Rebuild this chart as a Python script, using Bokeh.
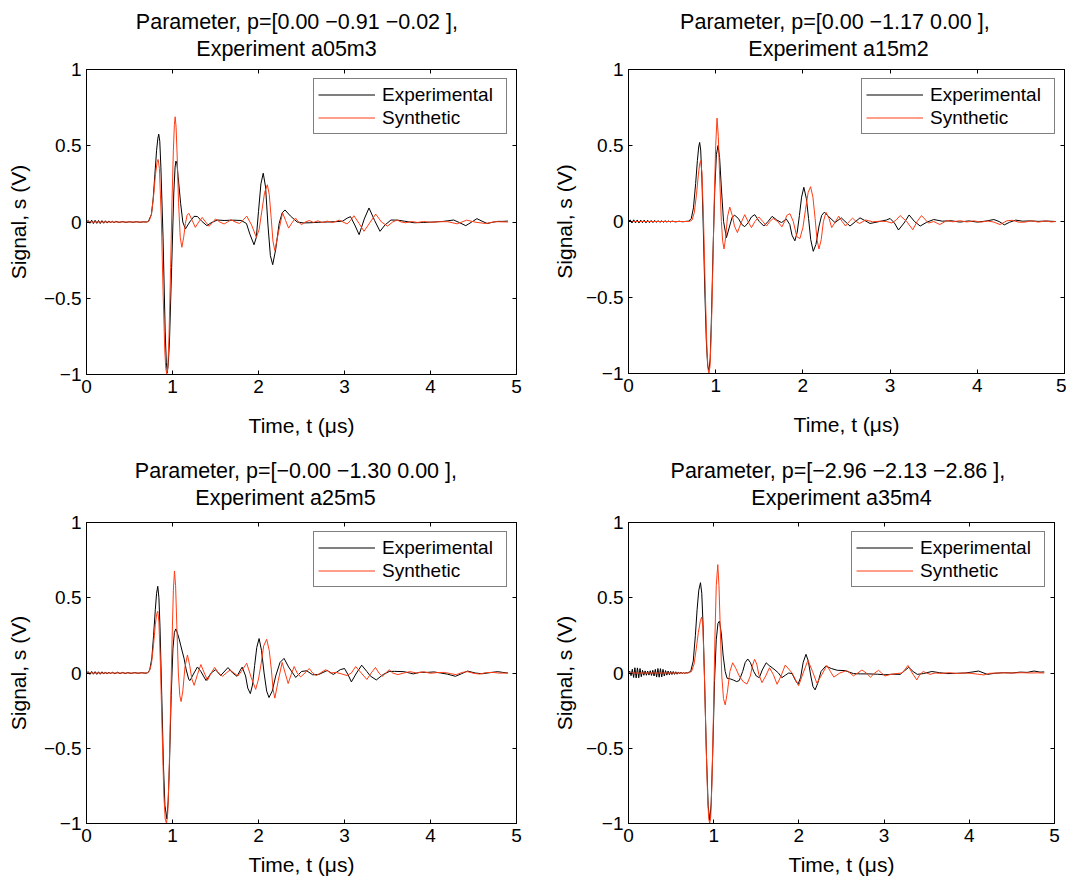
from bokeh.plotting import figure
from bokeh.models import Range1d, FixedTicker, LinearAxis, Legend, LegendItem, Title
from bokeh.layouts import column, row
from bokeh.embed import file_html
from bokeh.resources import INLINE

# ---------------- data ----------------
x_ticks = [0, 1, 2, 3, 4, 5]
y_ticks = [-1, -0.5, 0, 0.5, 1]
y_tick_labels = ["−1", "−0.5", "0", "0.5", "1"]
legend_labels = ["Experimental", "Synthetic"]
x_label = "Time, t (μs)"
y_label = "Signal, s (V)"

experiments = ["a05m3", "a15m2", "a25m5", "a35m4"]
parameters = ["[0.00 −0.91 −0.02 ],", "[0.00 −1.17 0.00 ],",
              "[−0.00 −1.30 0.00 ],", "[−2.96 −2.13 −2.86 ],"]

# (time in µs, signal in V)
exp_a05m3 = [
    (0.00, 0.000), (0.02, 0.010), (0.04, -0.008), (0.06, 0.012), (0.08, -0.010), (0.10, 0.011),
    (0.12, -0.009), (0.14, 0.010), (0.16, -0.010), (0.18, 0.009), (0.20, -0.008), (0.22, 0.008),
    (0.24, -0.007), (0.26, 0.007), (0.28, -0.006), (0.30, 0.006), (0.32, -0.005), (0.34, 0.004),
    (0.38, -0.003), (0.42, 0.003), (0.46, -0.003), (0.50, 0.002), (0.54, -0.002), (0.58, 0.002),
    (0.62, -0.002), (0.66, 0.001), (0.70, 0.000),
    (0.72, 0.004), (0.755, 0.05), (0.775, 0.15), (0.795, 0.31), (0.815, 0.47), (0.83, 0.55),
    (0.84, 0.576), (0.852, 0.53), (0.865, 0.36), (0.89, -0.10), (0.915, -0.72), (0.928, -0.92),
    (0.94, -0.99), (0.952, -0.92), (0.965, -0.78), (0.99, -0.30), (1.015, 0.19), (1.03, 0.36),
    (1.04, 0.40), (1.052, 0.38), (1.065, 0.30), (1.095, 0.12), (1.12, 0.00), (1.15, -0.046),
    (1.20, 0.00), (1.25, 0.037), (1.29, 0.036), (1.34, 0.005), (1.40, -0.024), (1.45, -0.005),
    (1.52, 0.013), (1.60, 0.010), (1.70, 0.012), (1.80, 0.010), (1.86, -0.01), (1.90, -0.08),
    (1.948, -0.149), (1.975, -0.10), (2.00, 0.07), (2.028, 0.25), (2.055, 0.32), (2.082, 0.23),
    (2.11, -0.02), (2.138, -0.22), (2.165, -0.28), (2.20, -0.18), (2.24, -0.01), (2.275, 0.06),
    (2.308, 0.079), (2.37, 0.04), (2.45, 0.000), (2.52, -0.006), (2.60, -0.005), (2.70, -0.002),
    (2.80, 0.000), (2.90, 0.002), (2.98, 0.006), (3.03, 0.025), (3.07, 0.035), (3.12, -0.02),
    (3.17, -0.083), (3.23, 0.02), (3.285, 0.092), (3.35, 0.01), (3.413, -0.061), (3.47, -0.02),
    (3.54, 0.013), (3.62, 0.012), (3.70, 0.005), (3.81, -0.005), (3.92, -0.003), (4.04, 0.000),
    (4.15, 0.004), (4.27, 0.013), (4.34, -0.005), (4.41, -0.024), (4.48, 0.000), (4.54, 0.022),
    (4.60, 0.005), (4.66, -0.010), (4.72, -0.002), (4.78, 0.004), (4.84, 0.004), (4.90, 0.006)]

syn_a05m3 = [
    (0.00, 0.0), (0.70, 0.0), (0.73, 0.008), (0.755, 0.05), (0.78, 0.17), (0.80, 0.30), (0.82, 0.39),
    (0.833, 0.41), (0.848, 0.35), (0.87, 0.02), (0.89, -0.45), (0.91, -0.84), (0.922, -0.96),
    (0.934, -1.00), (0.946, -0.95), (0.96, -0.74), (0.978, -0.30), (0.995, 0.15), (1.01, 0.47),
    (1.022, 0.64), (1.031, 0.69), (1.042, 0.62), (1.055, 0.42), (1.07, 0.13), (1.09, -0.10),
    (1.109, -0.166), (1.13, -0.10), (1.15, -0.01), (1.17, 0.045), (1.19, 0.057), (1.23, 0.01),
    (1.265, -0.035), (1.305, 0.00), (1.345, 0.030), (1.385, 0.00), (1.425, -0.028), (1.465, -0.004),
    (1.50, 0.020), (1.55, 0.00), (1.60, -0.013), (1.64, 0.00), (1.68, 0.015), (1.73, 0.00),
    (1.78, -0.010), (1.82, 0.012), (1.863, 0.039), (1.92, -0.02), (1.975, -0.100), (2.007, -0.05),
    (2.039, 0.072), (2.071, 0.194), (2.103, 0.244), (2.125, 0.18), (2.147, 0.03), (2.168, -0.125),
    (2.19, -0.188), (2.235, -0.06), (2.28, 0.060), (2.315, 0.01), (2.35, -0.040), (2.39, -0.005),
    (2.43, 0.026), (2.465, 0.00), (2.50, -0.017), (2.545, 0.00), (2.59, 0.010), (2.64, -0.003),
    (2.69, 0.008), (2.74, -0.004), (2.80, 0.006), (2.86, -0.004), (2.94, 0.012), (3.03, -0.013),
    (3.07, 0.01), (3.11, 0.041), (3.17, -0.01), (3.227, -0.061), (3.30, 0.00), (3.363, 0.052),
    (3.43, 0.00), (3.50, -0.027), (3.56, 0.00), (3.61, 0.013), (3.66, 0.00), (3.71, -0.005),
    (3.78, 0.003), (3.85, -0.003), (3.92, 0.003), (4.00, -0.002), (4.10, 0.002), (4.20, 0.002),
    (4.31, -0.012), (4.42, 0.012), (4.53, -0.002), (4.64, -0.010), (4.75, 0.002), (4.90, 0.000)]

exp_a15m2 = [
    (0.00, 0.0), (0.02, 0.010), (0.04, -0.010), (0.06, 0.011), (0.08, -0.009), (0.10, 0.010),
    (0.12, -0.010), (0.14, 0.009), (0.16, -0.008), (0.18, 0.009), (0.20, -0.009), (0.22, 0.008),
    (0.24, -0.008), (0.26, 0.007), (0.28, -0.007), (0.30, 0.007), (0.32, -0.006), (0.34, 0.006),
    (0.36, -0.006), (0.38, 0.005), (0.40, -0.005), (0.42, 0.005), (0.44, -0.004), (0.46, 0.004),
    (0.48, -0.004), (0.50, 0.003), (0.54, -0.003), (0.58, 0.002), (0.62, -0.002), (0.66, 0.001),
    (0.69, 0.002), (0.72, 0.02), (0.745, 0.09), (0.77, 0.25), (0.79, 0.40), (0.805, 0.49),
    (0.816, 0.52), (0.828, 0.47), (0.842, 0.28), (0.858, -0.05), (0.875, -0.45), (0.892, -0.78),
    (0.908, -0.95), (0.923, -0.98), (0.937, -0.90), (0.952, -0.62), (0.97, -0.18), (0.99, 0.22),
    (1.008, 0.44), (1.027, 0.50), (1.045, 0.42), (1.065, 0.22), (1.09, 0.00), (1.123, -0.106),
    (1.16, -0.03), (1.19, 0.03), (1.218, 0.041), (1.26, 0.02), (1.30, -0.02), (1.333, -0.034),
    (1.37, -0.01), (1.41, 0.03), (1.448, 0.045), (1.50, 0.00), (1.552, -0.030), (1.60, 0.00),
    (1.647, 0.034), (1.70, 0.01), (1.755, -0.007), (1.81, 0.016), (1.85, -0.02), (1.875, -0.09),
    (1.908, -0.127), (1.935, -0.07), (1.96, 0.04), (1.985, 0.16), (2.011, 0.225), (2.04, 0.15),
    (2.065, 0.02), (2.09, -0.12), (2.119, -0.196), (2.15, -0.15), (2.185, -0.03), (2.215, 0.04),
    (2.245, 0.061), (2.30, 0.03), (2.368, -0.007), (2.44, 0.024), (2.54, -0.030), (2.655, 0.024),
    (2.77, -0.013), (2.88, 0.000), (2.96, 0.010), (3.00, 0.020), (3.05, -0.01), (3.096, -0.056),
    (3.16, -0.01), (3.218, 0.043), (3.28, 0.00), (3.345, -0.030), (3.42, -0.005), (3.50, 0.013),
    (3.60, 0.002), (3.70, 0.005), (3.80, -0.004), (3.90, 0.004), (4.00, -0.004), (4.10, 0.003),
    (4.19, 0.013), (4.25, 0.000), (4.31, -0.022), (4.37, -0.005), (4.44, 0.009), (4.52, 0.002),
    (4.60, 0.004), (4.70, 0.001), (4.80, 0.003), (4.90, 0.000)]

syn_a15m2 = [
    (0.00, 0.0), (0.70, 0.0), (0.73, 0.01), (0.755, 0.06), (0.78, 0.18), (0.80, 0.30), (0.816, 0.38),
    (0.828, 0.40), (0.842, 0.32), (0.86, 0.02), (0.88, -0.45), (0.90, -0.85), (0.912, -0.97),
    (0.923, -1.0), (0.935, -0.95), (0.95, -0.72), (0.968, -0.28), (0.985, 0.18), (1.00, 0.50),
    (1.015, 0.68), (1.03, 0.56), (1.045, 0.30), (1.065, 0.00), (1.08, -0.13), (1.096, -0.181),
    (1.115, -0.10), (1.135, 0.03), (1.161, 0.095), (1.19, 0.04), (1.215, -0.03), (1.249, -0.073),
    (1.29, -0.01), (1.333, 0.045), (1.37, 0.00), (1.41, -0.040), (1.45, 0.00), (1.494, 0.03),
    (1.54, 0.00), (1.583, -0.03), (1.62, 0.00), (1.66, 0.02), (1.71, 0.00), (1.76, -0.035),
    (1.79, 0.00), (1.815, 0.04), (1.851, 0.052), (1.89, 0.00), (1.93, -0.10), (1.966, -0.112),
    (2.00, -0.04), (2.03, 0.08), (2.06, 0.19), (2.088, 0.229), (2.115, 0.16), (2.14, 0.02),
    (2.162, -0.12), (2.184, -0.181), (2.21, -0.12), (2.235, 0.00), (2.265, 0.06), (2.30, 0.02),
    (2.33, -0.04), (2.37, -0.005), (2.41, 0.035), (2.45, 0.00), (2.49, -0.030), (2.53, 0.00),
    (2.57, 0.022), (2.61, 0.00), (2.65, -0.013), (2.72, 0.010), (2.80, -0.002), (2.88, 0.002),
    (2.96, 0.000), (3.02, -0.01), (3.07, 0.01), (3.115, 0.039), (3.19, 0.00), (3.26, -0.054),
    (3.31, 0.00), (3.36, 0.039), (3.44, -0.010), (3.50, 0.00), (3.57, -0.020), (3.65, 0.006),
    (3.72, -0.002), (3.80, 0.005), (3.88, -0.003), (3.96, 0.004), (4.04, -0.004), (4.12, 0.003),
    (4.19, -0.004), (4.26, -0.020), (4.34, 0.005), (4.40, 0.008), (4.48, -0.005), (4.55, -0.004),
    (4.62, 0.005), (4.70, -0.004), (4.78, 0.004), (4.85, -0.003), (4.90, 0.000)]

exp_a25m5 = [
    (0.00, 0.0), (0.02, 0.009), (0.04, -0.009), (0.06, 0.010), (0.08, -0.008), (0.10, 0.009),
    (0.12, -0.009), (0.14, 0.008), (0.16, -0.008), (0.18, 0.008), (0.20, -0.007), (0.22, 0.007),
    (0.24, -0.007), (0.26, 0.006), (0.28, -0.006), (0.30, 0.006), (0.33, -0.005), (0.36, 0.005),
    (0.39, -0.004), (0.42, 0.004), (0.45, -0.004), (0.48, 0.003), (0.52, -0.003), (0.56, 0.003),
    (0.60, -0.002), (0.64, 0.002), (0.68, -0.001), (0.71, 0.000),
    (0.735, 0.02), (0.76, 0.10), (0.78, 0.25), (0.80, 0.42), (0.815, 0.53), (0.829, 0.576),
    (0.842, 0.50), (0.855, 0.30), (0.875, -0.15), (0.895, -0.62), (0.912, -0.88), (0.934, -0.97),
    (0.95, -0.85), (0.965, -0.60), (0.985, -0.15), (1.005, 0.16), (1.022, 0.27), (1.039, 0.293),
    (1.06, 0.26), (1.08, 0.22), (1.095, 0.185), (1.115, 0.14), (1.134, 0.098), (1.16, 0.02),
    (1.19, -0.044), (1.204, -0.05), (1.25, 0.00), (1.29, 0.040), (1.33, 0.01), (1.39, -0.05),
    (1.45, 0.00), (1.50, 0.022), (1.56, -0.017), (1.645, 0.036), (1.70, 0.00), (1.75, -0.022),
    (1.79, 0.02), (1.81, 0.039), (1.85, -0.02), (1.875, -0.10), (1.905, -0.137), (1.93, -0.08),
    (1.955, 0.05), (1.98, 0.17), (2.007, 0.229), (2.035, 0.15), (2.065, 0.00), (2.095, -0.12),
    (2.122, -0.163), (2.16, -0.12), (2.20, -0.02), (2.25, 0.07), (2.297, 0.097), (2.35, 0.04),
    (2.433, -0.03), (2.50, 0.01), (2.56, 0.015), (2.63, -0.012), (2.70, -0.010), (2.80, 0.017),
    (2.87, -0.010), (2.95, 0.022), (3.00, 0.030), (3.04, -0.01), (3.08, -0.059), (3.14, 0.00),
    (3.20, 0.052), (3.26, 0.01), (3.30, -0.02), (3.37, -0.046), (3.45, -0.01), (3.52, 0.010),
    (3.58, 0.011), (3.69, 0.009), (3.80, -0.006), (3.88, 0.005), (3.96, 0.004), (4.04, 0.007),
    (4.12, 0.000), (4.20, -0.008), (4.29, -0.022), (4.36, -0.005), (4.43, 0.013), (4.52, 0.000),
    (4.60, -0.005), (4.70, 0.003), (4.78, 0.009), (4.84, 0.004), (4.90, 0.000)]

syn_a25m5 = [
    (0.00, 0.0), (0.70, 0.0), (0.73, 0.01), (0.755, 0.06), (0.78, 0.19), (0.80, 0.32), (0.815, 0.39),
    (0.829, 0.41), (0.842, 0.34), (0.86, 0.05), (0.88, -0.40), (0.90, -0.82), (0.915, -0.97),
    (0.93, -1.0), (0.945, -0.93), (0.96, -0.68), (0.978, -0.22), (0.995, 0.22), (1.01, 0.55),
    (1.023, 0.678), (1.036, 0.58), (1.05, 0.32), (1.068, 0.00), (1.085, -0.15), (1.10, -0.19),
    (1.12, -0.12), (1.145, 0.04), (1.174, 0.12), (1.20, 0.05), (1.225, -0.04), (1.252, -0.082),
    (1.29, -0.01), (1.33, 0.056), (1.37, 0.00), (1.407, -0.049), (1.45, 0.00), (1.49, 0.037),
    (1.535, 0.00), (1.58, -0.022), (1.625, 0.00), (1.67, 0.020), (1.715, 0.00), (1.76, -0.02),
    (1.80, 0.01), (1.863, 0.065), (1.915, -0.03), (1.967, -0.109), (2.00, -0.04), (2.03, 0.06),
    (2.06, 0.18), (2.095, 0.224), (2.125, 0.15), (2.15, 0.02), (2.17, -0.11), (2.19, -0.167),
    (2.23, -0.05), (2.275, 0.07), (2.31, 0.00), (2.345, -0.07), (2.38, -0.01), (2.415, 0.043),
    (2.45, 0.00), (2.49, -0.026), (2.54, 0.00), (2.59, 0.030), (2.63, 0.00), (2.67, -0.017),
    (2.72, 0.00), (2.78, 0.022), (2.84, 0.00), (2.90, 0.004), (2.96, -0.005), (3.03, -0.017),
    (3.08, 0.00), (3.13, 0.043), (3.195, 0.00), (3.26, -0.043), (3.31, 0.00), (3.36, 0.037),
    (3.40, 0.00), (3.44, -0.022), (3.48, 0.00), (3.52, 0.022), (3.56, 0.00), (3.62, -0.011),
    (3.69, 0.000), (3.76, 0.009), (3.84, 0.000), (3.92, 0.008), (4.00, -0.002), (4.08, 0.003),
    (4.16, 0.004), (4.23, -0.004), (4.30, -0.011), (4.37, 0.004), (4.43, 0.009), (4.50, -0.002),
    (4.57, -0.007), (4.65, 0.003), (4.73, 0.004), (4.80, -0.001), (4.90, 0.000)]

exp_a35m4 = [
    (0.000, 0.000), (0.015, 0.012), (0.030, -0.018), (0.045, 0.025), (0.060, -0.030), (0.075, 0.035),
    (0.090, -0.033), (0.105, 0.034), (0.120, -0.032), (0.135, 0.030), (0.150, -0.025), (0.165, 0.018),
    (0.180, -0.015), (0.195, 0.014), (0.210, -0.015), (0.225, 0.013), (0.240, -0.014), (0.255, 0.015),
    (0.270, -0.016), (0.285, 0.018), (0.300, -0.020), (0.315, 0.024), (0.330, -0.027), (0.345, 0.030),
    (0.360, -0.028), (0.375, 0.029), (0.390, -0.026), (0.405, 0.024), (0.420, -0.020), (0.435, 0.016),
    (0.450, -0.014), (0.465, 0.013), (0.480, -0.012), (0.495, 0.011), (0.510, -0.010), (0.525, 0.010),
    (0.540, -0.009), (0.555, 0.008), (0.570, -0.008), (0.585, 0.007), (0.600, -0.006), (0.615, 0.006),
    (0.630, -0.005), (0.645, 0.004), (0.660, -0.004), (0.675, 0.003), (0.690, 0.000),
    (0.70, 0.003), (0.73, 0.01), (0.76, 0.08), (0.785, 0.25), (0.805, 0.42), (0.825, 0.55),
    (0.845, 0.60), (0.86, 0.53), (0.875, 0.32), (0.895, -0.10), (0.915, -0.55), (0.935, -0.88),
    (0.954, -0.98), (0.97, -0.87), (0.99, -0.50), (1.01, -0.05), (1.03, 0.22), (1.05, 0.33),
    (1.068, 0.345), (1.09, 0.26), (1.11, 0.12), (1.135, 0.01), (1.157, -0.035), (1.20, -0.04),
    (1.235, -0.048), (1.27, -0.057), (1.30, -0.05), (1.34, 0.01), (1.37, 0.07), (1.40, 0.093),
    (1.43, 0.07), (1.47, 0.01), (1.50, -0.02), (1.535, -0.031), (1.57, 0.02), (1.616, 0.068),
    (1.65, 0.05), (1.686, 0.035), (1.72, 0.02), (1.76, 0.00), (1.80, -0.031), (1.84, -0.015),
    (1.88, 0.00), (1.92, -0.004), (1.96, -0.05), (1.99, -0.075), (2.02, -0.03), (2.05, 0.07),
    (2.083, 0.124), (2.11, 0.08), (2.14, -0.02), (2.165, -0.09), (2.19, -0.112), (2.22, -0.07),
    (2.26, 0.01), (2.315, 0.046), (2.38, 0.03), (2.45, 0.018), (2.54, 0.016), (2.64, -0.004),
    (2.72, -0.006), (2.82, -0.006), (2.92, -0.008), (3.01, -0.012), (3.10, -0.008), (3.19, -0.009),
    (3.24, 0.015), (3.29, 0.038), (3.34, 0.01), (3.39, -0.009), (3.46, -0.004), (3.56, 0.010),
    (3.65, 0.002), (3.75, -0.004), (3.85, -0.002), (3.95, 0.000), (4.03, 0.006), (4.11, 0.013),
    (4.21, -0.009), (4.30, -0.002), (4.40, 0.002), (4.50, 0.000), (4.60, 0.006), (4.68, 0.004),
    (4.76, 0.013), (4.83, 0.006), (4.88, 0.007)]

syn_a35m4 = [
    (0.00, 0.0), (0.70, 0.0), (0.74, 0.01), (0.77, 0.06), (0.795, 0.16), (0.82, 0.27), (0.845, 0.35),
    (0.86, 0.372), (0.873, 0.30), (0.89, 0.02), (0.91, -0.45), (0.93, -0.85), (0.942, -0.97),
    (0.954, -1.0), (0.966, -0.95), (0.98, -0.72), (0.998, -0.25), (1.015, 0.25), (1.03, 0.58),
    (1.048, 0.72), (1.062, 0.58), (1.078, 0.28), (1.095, -0.02), (1.115, -0.17), (1.135, -0.212),
    (1.16, -0.13), (1.19, 0.01), (1.223, 0.068), (1.26, 0.03), (1.30, -0.02), (1.35, -0.06),
    (1.391, -0.073), (1.43, -0.02), (1.455, 0.05), (1.48, 0.091), (1.505, 0.06), (1.53, -0.01),
    (1.567, -0.064), (1.61, -0.02), (1.655, 0.035), (1.70, -0.01), (1.744, -0.075), (1.79, -0.02),
    (1.84, 0.053), (1.92, 0.00), (1.997, -0.084), (2.05, 0.00), (2.106, 0.084), (2.16, 0.01),
    (2.211, -0.068), (2.27, -0.01), (2.329, 0.05), (2.37, 0.01), (2.41, -0.027), (2.48, 0.00),
    (2.56, 0.016), (2.60, 0.00), (2.64, -0.019), (2.69, 0.00), (2.74, 0.020), (2.79, 0.00),
    (2.84, -0.028), (2.89, 0.00), (2.935, 0.018), (2.97, 0.00), (3.01, -0.020), (3.07, -0.010),
    (3.14, -0.004), (3.21, 0.00), (3.24, 0.02), (3.28, 0.050), (3.33, 0.00), (3.384, -0.046),
    (3.42, -0.01), (3.46, 0.010), (3.50, 0.00), (3.54, -0.009), (3.60, 0.000), (3.68, -0.003),
    (3.76, 0.002), (3.85, -0.003), (3.94, 0.000), (4.02, -0.002), (4.10, -0.008), (4.17, -0.013),
    (4.24, -0.002), (4.32, 0.000), (4.42, 0.001), (4.52, 0.000), (4.62, 0.002), (4.72, 0.000),
    (4.80, 0.001), (4.88, 0.000)]

experimental = [exp_a05m3, exp_a15m2, exp_a25m5, exp_a35m4]
synthetic = [syn_a05m3, syn_a15m2, syn_a25m5, syn_a35m4]

# ---------------- styling / layout ----------------
FONT = "Liberation Sans"
TEXT = "#000000"
BLACK = "#000000"
RED = "#ff3c14"
TITLE_PX = 21.5
LABEL_SIZE = "21px"
TICK_SIZE = "19px"
LEGEND_SIZE = "19px"

# frame size, borders, title centres (px from frame left), title standoffs, axis-label standoffs
LAYOUT = [
    dict(fw=430, fh=305, ml=86, mr=20, mt=69, mb=72, c1=211, c2=200, s1=-15, s2=17, xs=18, ys=11),
    dict(fw=436, fh=304, ml=92, mr=2, mt=69, mb=73, c1=207, c2=210, s1=-15, s2=17, xs=18, ys=7),
    dict(fw=430, fh=301, ml=86, mr=20, mt=76, mb=56, c1=210, c2=199, s1=-23, s2=25, xs=8, ys=11),
    dict(fw=426, fh=301, ml=92, mr=12, mt=76, mb=56, c1=210, c2=213, s1=-23, s2=25, xs=8, ys=7),
]

# Arial / Liberation Sans advance widths (1/1000 em) used to place left-aligned titles
ARIAL = {' ': 278, ',': 278, '.': 278, '=': 584, '[': 278, ']': 278, '−': 584,
         'E': 667, 'P': 667, 'a': 556, 'e': 556, 'i': 222, 'm': 833, 'n': 556,
         'p': 556, 'r': 333, 't': 278, 'x': 500}


def text_width(s, px):
    s = " ".join(s.split())  # SVG collapses runs of spaces
    return sum(ARIAL.get(c, 556) for c in s) * px / 1000.0


def style_axis(ax, ticks, show_labels):
    ax.ticker = FixedTicker(ticks=ticks)
    ax.major_tick_in = 4
    ax.major_tick_out = 0
    ax.minor_tick_line_color = None
    ax.axis_line_color = "black"
    ax.axis_line_width = 1
    ax.major_tick_line_color = "black"
    ax.major_label_text_font = FONT
    if show_labels:
        ax.major_label_standoff = 5
        ax.major_label_text_font_size = TICK_SIZE
        ax.major_label_text_color = TEXT
    else:
        ax.major_label_standoff = 0
        ax.major_label_text_font_size = "0px"
        ax.major_label_text_color = None


figs = []
for i in range(4):
    L = LAYOUT[i]
    p = figure(frame_width=L["fw"], frame_height=L["fh"], title=None,
               x_range=Range1d(0, 5), y_range=Range1d(-1, 1),
               min_border_left=L["ml"], min_border_right=L["mr"],
               min_border_top=L["mt"], min_border_bottom=L["mb"],
               output_backend="svg", toolbar_location=None,
               background_fill_color="white", border_fill_color="white",
               outline_line_color="black", outline_line_width=1)
    p.xgrid.visible = False
    p.ygrid.visible = False

    for ax in p.xaxis:
        style_axis(ax, x_ticks, True)
        ax.axis_label = x_label
        ax.axis_label_standoff = L["xs"]
    for ax in p.yaxis:
        style_axis(ax, y_ticks, True)
        ax.major_label_overrides = {float(v): lab for v, lab in zip(y_ticks, y_tick_labels)}
        ax.axis_label = y_label
        ax.axis_label_standoff = L["ys"]
    for ax in list(p.xaxis) + list(p.yaxis):
        ax.axis_label_text_font = FONT
        ax.axis_label_text_font_size = LABEL_SIZE
        ax.axis_label_text_font_style = "normal"
        ax.axis_label_text_color = TEXT

    top = LinearAxis()
    style_axis(top, x_ticks, False)
    p.add_layout(top, "above")
    right = LinearAxis()
    style_axis(right, y_ticks, False)
    p.add_layout(right, "right")

    line1 = "Parameter,  p=" + parameters[i]
    line2 = "Experiment " + experiments[i]
    t2 = Title(text=line2, align="left", offset=L["c2"] - text_width(line2, TITLE_PX) / 2,
               vertical_align="bottom", standoff=L["s2"], text_font=FONT,
               text_font_size=f"{TITLE_PX}px", text_font_style="normal", text_color=TEXT)
    t1 = Title(text=line1, align="left", offset=L["c1"] - text_width(line1, TITLE_PX) / 2,
               vertical_align="bottom", standoff=L["s1"], text_font=FONT,
               text_font_size=f"{TITLE_PX}px", text_font_style="normal", text_color=TEXT)
    p.add_layout(t2, "above")
    p.add_layout(t1, "above")

    et, es = zip(*experimental[i])
    st, ss = zip(*synthetic[i])
    r_exp = p.line(list(et), list(es), line_color=BLACK, line_width=1)
    r_syn = p.line(list(st), list(ss), line_color=RED, line_width=1)

    legend = Legend(items=[LegendItem(label=legend_labels[0], renderers=[r_exp]),
                           LegendItem(label=legend_labels[1], renderers=[r_syn])],
                    location="top_right", margin=9, padding=4, spacing=0,
                    glyph_width=57, glyph_height=23, label_height=23, label_width=120,
                    label_standoff=7, label_text_font=FONT,
                    label_text_font_size=LEGEND_SIZE, label_text_color=TEXT,
                    border_line_color="black", border_line_width=1,
                    background_fill_color="white", background_fill_alpha=1.0)
    p.add_layout(legend)
    figs.append(p)

layout = column(row(figs[0], figs[1]), row(figs[2], figs[3]))
open("out.html", "w").write(file_html(layout, INLINE))
